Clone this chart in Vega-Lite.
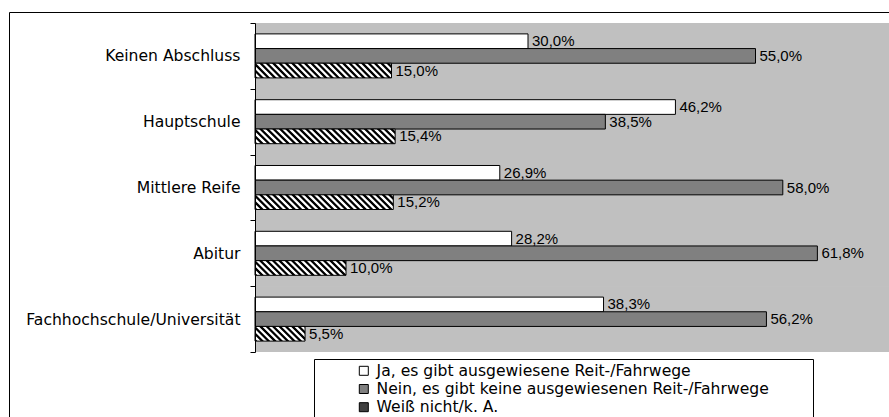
{
  "$schema": "https://vega.github.io/schema/vega-lite/v6.json",
  "width": 882,
  "height": 410,
  "autosize": {"type": "none"},
  "padding": {"left": 9, "top": 12, "right": 0, "bottom": 0},
  "background": "white",
  "config": {
    "view": {"fill": "white", "stroke": "black", "strokeWidth": 1},
    "locale": {"number": {"decimal": ",", "thousands": ".", "grouping": [3], "currency": ["", " €"]}}
  },
  "data": {
    "values": [
      {"edu": "Keinen Abschluss", "series": "Ja, es gibt ausgewiesene Reit-/Fahrwege", "value": 0.300},
      {"edu": "Keinen Abschluss", "series": "Nein, es gibt keine ausgewiesenen Reit-/Fahrwege", "value": 0.550},
      {"edu": "Keinen Abschluss", "series": "Weiß nicht/k. A.", "value": 0.150},
      {"edu": "Hauptschule", "series": "Ja, es gibt ausgewiesene Reit-/Fahrwege", "value": 0.462},
      {"edu": "Hauptschule", "series": "Nein, es gibt keine ausgewiesenen Reit-/Fahrwege", "value": 0.385},
      {"edu": "Hauptschule", "series": "Weiß nicht/k. A.", "value": 0.154},
      {"edu": "Mittlere Reife", "series": "Ja, es gibt ausgewiesene Reit-/Fahrwege", "value": 0.269},
      {"edu": "Mittlere Reife", "series": "Nein, es gibt keine ausgewiesenen Reit-/Fahrwege", "value": 0.580},
      {"edu": "Mittlere Reife", "series": "Weiß nicht/k. A.", "value": 0.152},
      {"edu": "Abitur", "series": "Ja, es gibt ausgewiesene Reit-/Fahrwege", "value": 0.282},
      {"edu": "Abitur", "series": "Nein, es gibt keine ausgewiesenen Reit-/Fahrwege", "value": 0.618},
      {"edu": "Abitur", "series": "Weiß nicht/k. A.", "value": 0.100},
      {"edu": "Fachhochschule/Universität", "series": "Ja, es gibt ausgewiesene Reit-/Fahrwege", "value": 0.383},
      {"edu": "Fachhochschule/Universität", "series": "Nein, es gibt keine ausgewiesenen Reit-/Fahrwege", "value": 0.562},
      {"edu": "Fachhochschule/Universität", "series": "Weiß nicht/k. A.", "value": 0.055}
    ]
  },
  "encoding": {
    "y": {
      "field": "edu", "type": "nominal",
      "sort": ["Keinen Abschluss", "Hauptschule", "Mittlere Reife", "Abitur", "Fachhochschule/Universität"],
      "scale": {"paddingInner": 0, "paddingOuter": 0, "range": [11, 340]},
      "axis": {"title": null, "offset": -246, "domainColor": "black", "tickColor": "black", "tickSize": 5, "tickBand": "extent", "labelFont": "DejaVu Sans", "labelFontSize": 15.6, "labelColor": "black", "labelPadding": 10, "labelLimit": 300, "grid": false}
    }
  },
  "layer": [
    {
      "mark": {"type": "rect", "fill": "#C0C0C0", "strokeWidth": 0},
      "encoding": {
        "x": {"datum": 0, "type": "quantitative", "scale": {"domain": [0, 0.6967], "range": [246, 880], "nice": false, "zero": true}, "axis": null},
        "x2": {"datum": 0.70}
      }
    },
    {
      "mark": {"type": "bar", "stroke": "black", "strokeWidth": 1},
      "encoding": {
        "x": {"field": "value", "type": "quantitative"},
        "yOffset": {
          "field": "series", "type": "nominal",
          "sort": ["Ja, es gibt ausgewiesene Reit-/Fahrwege", "Nein, es gibt keine ausgewiesenen Reit-/Fahrwege", "Weiß nicht/k. A."],
          "scale": {"paddingInner": 0, "paddingOuter": 0.743}
        },
        "fill": {
          "field": "series", "type": "nominal",
          "sort": ["Ja, es gibt ausgewiesene Reit-/Fahrwege", "Nein, es gibt keine ausgewiesenen Reit-/Fahrwege", "Weiß nicht/k. A."],
          "scale": {"domain": ["Ja, es gibt ausgewiesene Reit-/Fahrwege", "Nein, es gibt keine ausgewiesenen Reit-/Fahrwege", "Weiß nicht/k. A."], "range": ["#FFFFFF", "#808080", "#404040"]},
          "legend": {
            "orient": "none", "legendX": 305, "legendY": 347, "direction": "vertical",
            "symbolType": "square", "symbolSize": 81, "symbolStrokeColor": "black", "symbolStrokeWidth": 1,
            "labelFont": "DejaVu Sans", "labelFontSize": 15.6, "labelColor": "black", "labelLimit": 500,
            "rowPadding": 1.2, "padding": 4, "strokeColor": "black", "fillColor": "white",
            "symbolOffset": 38, "labelOffset": 5,
            "title": " ", "titleOrient": "right", "titlePadding": 40, "titleColor": "transparent"
          },
          "condition": [
            {"test": "datum.series === 'Weiß nicht/k. A.' && datum.value > 0.12", "value": {"gradient": "linear", "x1": 0, "y1": 1, "x2": 1.106, "y2": 0.8827, "stops": [
              {"offset": 0, "color": "#000"}, {"offset": 0.0125, "color": "#000"}, {"offset": 0.0208, "color": "#fff"}, {"offset": 0.0333, "color": "#fff"},
              {"offset": 0.0417, "color": "#000"}, {"offset": 0.0542, "color": "#000"}, {"offset": 0.0625, "color": "#fff"}, {"offset": 0.075, "color": "#fff"},
              {"offset": 0.0833, "color": "#000"}, {"offset": 0.0958, "color": "#000"}, {"offset": 0.1042, "color": "#fff"}, {"offset": 0.1167, "color": "#fff"},
              {"offset": 0.125, "color": "#000"}, {"offset": 0.1375, "color": "#000"}, {"offset": 0.1458, "color": "#fff"}, {"offset": 0.1583, "color": "#fff"},
              {"offset": 0.1667, "color": "#000"}, {"offset": 0.1792, "color": "#000"}, {"offset": 0.1875, "color": "#fff"}, {"offset": 0.2, "color": "#fff"},
              {"offset": 0.2083, "color": "#000"}, {"offset": 0.2208, "color": "#000"}, {"offset": 0.2292, "color": "#fff"}, {"offset": 0.2417, "color": "#fff"},
              {"offset": 0.25, "color": "#000"}, {"offset": 0.2625, "color": "#000"}, {"offset": 0.2708, "color": "#fff"}, {"offset": 0.2833, "color": "#fff"},
              {"offset": 0.2917, "color": "#000"}, {"offset": 0.3042, "color": "#000"}, {"offset": 0.3125, "color": "#fff"}, {"offset": 0.325, "color": "#fff"},
              {"offset": 0.3333, "color": "#000"}, {"offset": 0.3458, "color": "#000"}, {"offset": 0.3542, "color": "#fff"}, {"offset": 0.3667, "color": "#fff"},
              {"offset": 0.375, "color": "#000"}, {"offset": 0.3875, "color": "#000"}, {"offset": 0.3958, "color": "#fff"}, {"offset": 0.4083, "color": "#fff"},
              {"offset": 0.4167, "color": "#000"}, {"offset": 0.4292, "color": "#000"}, {"offset": 0.4375, "color": "#fff"}, {"offset": 0.45, "color": "#fff"},
              {"offset": 0.4583, "color": "#000"}, {"offset": 0.4708, "color": "#000"}, {"offset": 0.4792, "color": "#fff"}, {"offset": 0.4917, "color": "#fff"},
              {"offset": 0.5, "color": "#000"}, {"offset": 0.5125, "color": "#000"}, {"offset": 0.5208, "color": "#fff"}, {"offset": 0.5333, "color": "#fff"},
              {"offset": 0.5417, "color": "#000"}, {"offset": 0.5542, "color": "#000"}, {"offset": 0.5625, "color": "#fff"}, {"offset": 0.575, "color": "#fff"},
              {"offset": 0.5833, "color": "#000"}, {"offset": 0.5958, "color": "#000"}, {"offset": 0.6042, "color": "#fff"}, {"offset": 0.6167, "color": "#fff"},
              {"offset": 0.625, "color": "#000"}, {"offset": 0.6375, "color": "#000"}, {"offset": 0.6458, "color": "#fff"}, {"offset": 0.6583, "color": "#fff"},
              {"offset": 0.6667, "color": "#000"}, {"offset": 0.6792, "color": "#000"}, {"offset": 0.6875, "color": "#fff"}, {"offset": 0.7, "color": "#fff"},
              {"offset": 0.7083, "color": "#000"}, {"offset": 0.7208, "color": "#000"}, {"offset": 0.7292, "color": "#fff"}, {"offset": 0.7417, "color": "#fff"},
              {"offset": 0.75, "color": "#000"}, {"offset": 0.7625, "color": "#000"}, {"offset": 0.7708, "color": "#fff"}, {"offset": 0.7833, "color": "#fff"},
              {"offset": 0.7917, "color": "#000"}, {"offset": 0.8042, "color": "#000"}, {"offset": 0.8125, "color": "#fff"}, {"offset": 0.825, "color": "#fff"},
              {"offset": 0.8333, "color": "#000"}, {"offset": 0.8458, "color": "#000"}, {"offset": 0.8542, "color": "#fff"}, {"offset": 0.8667, "color": "#fff"},
              {"offset": 0.875, "color": "#000"}, {"offset": 0.8875, "color": "#000"}, {"offset": 0.8958, "color": "#fff"}, {"offset": 0.9083, "color": "#fff"},
              {"offset": 0.9167, "color": "#000"}, {"offset": 0.9292, "color": "#000"}, {"offset": 0.9375, "color": "#fff"}, {"offset": 0.95, "color": "#fff"},
              {"offset": 0.9583, "color": "#000"}, {"offset": 0.9708, "color": "#000"}, {"offset": 0.9792, "color": "#fff"}, {"offset": 0.9917, "color": "#fff"},
              {"offset": 1, "color": "#000"}
            ]}},
            {"test": "datum.series === 'Weiß nicht/k. A.' && datum.value > 0.08", "value": {"gradient": "linear", "x1": 0, "y1": 1, "x2": 1.1612, "y2": 0.8128, "stops": [
              {"offset": 0, "color": "#000"}, {"offset": 0.0176, "color": "#000"}, {"offset": 0.0294, "color": "#fff"}, {"offset": 0.0471, "color": "#fff"},
              {"offset": 0.0588, "color": "#000"}, {"offset": 0.0765, "color": "#000"}, {"offset": 0.0882, "color": "#fff"}, {"offset": 0.1059, "color": "#fff"},
              {"offset": 0.1176, "color": "#000"}, {"offset": 0.1353, "color": "#000"}, {"offset": 0.1471, "color": "#fff"}, {"offset": 0.1647, "color": "#fff"},
              {"offset": 0.1765, "color": "#000"}, {"offset": 0.1941, "color": "#000"}, {"offset": 0.2059, "color": "#fff"}, {"offset": 0.2235, "color": "#fff"},
              {"offset": 0.2353, "color": "#000"}, {"offset": 0.2529, "color": "#000"}, {"offset": 0.2647, "color": "#fff"}, {"offset": 0.2824, "color": "#fff"},
              {"offset": 0.2941, "color": "#000"}, {"offset": 0.3118, "color": "#000"}, {"offset": 0.3235, "color": "#fff"}, {"offset": 0.3412, "color": "#fff"},
              {"offset": 0.3529, "color": "#000"}, {"offset": 0.3706, "color": "#000"}, {"offset": 0.3824, "color": "#fff"}, {"offset": 0.4, "color": "#fff"},
              {"offset": 0.4118, "color": "#000"}, {"offset": 0.4294, "color": "#000"}, {"offset": 0.4412, "color": "#fff"}, {"offset": 0.4588, "color": "#fff"},
              {"offset": 0.4706, "color": "#000"}, {"offset": 0.4882, "color": "#000"}, {"offset": 0.5, "color": "#fff"}, {"offset": 0.5176, "color": "#fff"},
              {"offset": 0.5294, "color": "#000"}, {"offset": 0.5471, "color": "#000"}, {"offset": 0.5588, "color": "#fff"}, {"offset": 0.5765, "color": "#fff"},
              {"offset": 0.5882, "color": "#000"}, {"offset": 0.6059, "color": "#000"}, {"offset": 0.6176, "color": "#fff"}, {"offset": 0.6353, "color": "#fff"},
              {"offset": 0.6471, "color": "#000"}, {"offset": 0.6647, "color": "#000"}, {"offset": 0.6765, "color": "#fff"}, {"offset": 0.6941, "color": "#fff"},
              {"offset": 0.7059, "color": "#000"}, {"offset": 0.7235, "color": "#000"}, {"offset": 0.7353, "color": "#fff"}, {"offset": 0.7529, "color": "#fff"},
              {"offset": 0.7647, "color": "#000"}, {"offset": 0.7824, "color": "#000"}, {"offset": 0.7941, "color": "#fff"}, {"offset": 0.8118, "color": "#fff"},
              {"offset": 0.8235, "color": "#000"}, {"offset": 0.8412, "color": "#000"}, {"offset": 0.8529, "color": "#fff"}, {"offset": 0.8706, "color": "#fff"},
              {"offset": 0.8824, "color": "#000"}, {"offset": 0.9, "color": "#000"}, {"offset": 0.9118, "color": "#fff"}, {"offset": 0.9294, "color": "#fff"},
              {"offset": 0.9412, "color": "#000"}, {"offset": 0.9588, "color": "#000"}, {"offset": 0.9706, "color": "#fff"}, {"offset": 0.9882, "color": "#fff"},
              {"offset": 1, "color": "#000"}
            ]}},
            {"test": "datum.series === 'Weiß nicht/k. A.'", "value": {"gradient": "linear", "x1": 0, "y1": 1, "x2": 1.2934, "y2": 0.6205, "stops": [
              {"offset": 0, "color": "#000"}, {"offset": 0.0273, "color": "#000"}, {"offset": 0.0455, "color": "#fff"}, {"offset": 0.0727, "color": "#fff"},
              {"offset": 0.0909, "color": "#000"}, {"offset": 0.1182, "color": "#000"}, {"offset": 0.1364, "color": "#fff"}, {"offset": 0.1636, "color": "#fff"},
              {"offset": 0.1818, "color": "#000"}, {"offset": 0.2091, "color": "#000"}, {"offset": 0.2273, "color": "#fff"}, {"offset": 0.2545, "color": "#fff"},
              {"offset": 0.2727, "color": "#000"}, {"offset": 0.3, "color": "#000"}, {"offset": 0.3182, "color": "#fff"}, {"offset": 0.3455, "color": "#fff"},
              {"offset": 0.3636, "color": "#000"}, {"offset": 0.3909, "color": "#000"}, {"offset": 0.4091, "color": "#fff"}, {"offset": 0.4364, "color": "#fff"},
              {"offset": 0.4545, "color": "#000"}, {"offset": 0.4818, "color": "#000"}, {"offset": 0.5, "color": "#fff"}, {"offset": 0.5273, "color": "#fff"},
              {"offset": 0.5455, "color": "#000"}, {"offset": 0.5727, "color": "#000"}, {"offset": 0.5909, "color": "#fff"}, {"offset": 0.6182, "color": "#fff"},
              {"offset": 0.6364, "color": "#000"}, {"offset": 0.6636, "color": "#000"}, {"offset": 0.6818, "color": "#fff"}, {"offset": 0.7091, "color": "#fff"},
              {"offset": 0.7273, "color": "#000"}, {"offset": 0.7545, "color": "#000"}, {"offset": 0.7727, "color": "#fff"}, {"offset": 0.8, "color": "#fff"},
              {"offset": 0.8182, "color": "#000"}, {"offset": 0.8455, "color": "#000"}, {"offset": 0.8636, "color": "#fff"}, {"offset": 0.8909, "color": "#fff"},
              {"offset": 0.9091, "color": "#000"}, {"offset": 0.9364, "color": "#000"}, {"offset": 0.9545, "color": "#fff"}, {"offset": 0.9818, "color": "#fff"},
              {"offset": 1, "color": "#000"}
            ]}}
          ]
        }
      }
    },
    {
      "mark": {"type": "text", "align": "left", "baseline": "middle", "dx": 4, "font": "Liberation Sans", "fontSize": 15, "color": "black"},
      "encoding": {
        "x": {"field": "value", "type": "quantitative"},
        "yOffset": {
          "field": "series", "type": "nominal",
          "sort": ["Ja, es gibt ausgewiesene Reit-/Fahrwege", "Nein, es gibt keine ausgewiesenen Reit-/Fahrwege", "Weiß nicht/k. A."]
        },
        "text": {"field": "value", "type": "quantitative", "format": ".1%"}
      }
    }
  ]
}
